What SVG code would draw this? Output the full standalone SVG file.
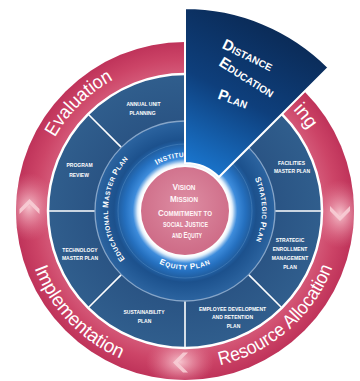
<svg xmlns="http://www.w3.org/2000/svg" width="360" height="381" viewBox="0 0 360 381">
<defs>
  <radialGradient id="pinkRing" gradientUnits="userSpaceOnUse" cx="185" cy="211" r="169">
    <stop offset="0.8" stop-color="#d55b7a"/>
    <stop offset="0.9" stop-color="#cc4467"/>
    <stop offset="1" stop-color="#bf335a"/>
  </radialGradient>
  <radialGradient id="hl">
    <stop offset="0" stop-color="#f8c9d2" stop-opacity="0.95"/>
    <stop offset="0.5" stop-color="#eea0b2" stop-opacity="0.5"/>
    <stop offset="1" stop-color="#e07a92" stop-opacity="0"/>
  </radialGradient>
  <clipPath id="ringClip"><circle cx="185" cy="211" r="169"/></clipPath>
  <radialGradient id="segGrad" gradientUnits="userSpaceOnUse" cx="185" cy="211" r="137">
    <stop offset="0.65" stop-color="#2a5484"/>
    <stop offset="1" stop-color="#305e8d"/>
  </radialGradient>
  <radialGradient id="midGrad" gradientUnits="userSpaceOnUse" cx="185" cy="211" r="90">
    <stop offset="0.49" stop-color="#ffffff"/>
    <stop offset="0.53" stop-color="#cfe3f6"/>
    <stop offset="0.58" stop-color="#3d8cdc"/>
    <stop offset="0.67" stop-color="#2570bf"/>
    <stop offset="0.74" stop-color="#215fa2"/>
    <stop offset="0.79" stop-color="#1c518d"/>
    <stop offset="0.9" stop-color="#245b97"/>
    <stop offset="1" stop-color="#2c64a0"/>
  </radialGradient>
  <radialGradient id="centerGrad" gradientUnits="userSpaceOnUse" cx="185" cy="205" r="46">
    <stop offset="0" stop-color="#de8ea4"/>
    <stop offset="1" stop-color="#cf6e89"/>
  </radialGradient>
  <linearGradient id="wedgeGrad" gradientUnits="userSpaceOnUse" x1="285" y1="20" x2="200" y2="180">
    <stop offset="0" stop-color="#0a2852"/>
    <stop offset="0.5" stop-color="#0e3f7c"/>
    <stop offset="1" stop-color="#1b7bd6"/>
  </linearGradient>
  <filter id="blur" x="-20%" y="-20%" width="140%" height="140%"><feGaussianBlur stdDeviation="1.6"/></filter>
  <path id="chev" d="M-10,3 L0,-7 L10,3 L10,8 L0,-2 L-10,8 Z"/>
  <path id="pEval" d="M54.88,137.39 A149.5,149.5 0 0 1 210.96,63.77"/>
  <path id="pImpl" d="M34.5,268.17 A161,161 0 0 0 212.95,369.55"/>
  <path id="pRes" d="M220,365.07 A158,158 0 0 0 342.4,224.77"/>
  <path id="pPlan" d="M292.89,109.69 A148,148 0 0 1 330.75,236.7"/>
  <path id="pEdu" d="M144.2,276.3 A77,77 0 0 1 148.85,143.02"/>
  <path id="pStrat" d="M222.33,143.66 A77,77 0 0 1 224.66,277"/>
  <path id="pInst" d="M156.8,164.9 A54,54 0 0 1 231.77,184"/>
  <path id="pEq" d="M134.34,240.25 A58.5,58.5 0 0 0 235.66,240.25"/>
  <path id="dl1" d="M221.3,47.7 L311.2,91.5"/>
  <path id="dl2" d="M218,65 L302.8,118"/>
  <path id="dl3" d="M217.1,98.4 L311.1,132.6"/>
</defs>
<style>
  .ring{font-family:"Liberation Sans",Arial,sans-serif;font-size:19px;fill:#ffffff}
  .mid{font-family:"Liberation Sans",Arial,sans-serif;font-size:6.5px;fill:#ffffff;font-weight:bold;letter-spacing:0.45px}
  .big{font-size:8px}
  .seg{font-family:"Liberation Sans",Arial,sans-serif;font-size:5px;fill:#ffffff;font-weight:bold;text-anchor:middle}
  .cen{font-family:"Liberation Sans",Arial,sans-serif;font-size:6.5px;fill:#fff6f8;font-weight:bold;text-anchor:middle}
  .cbig{font-size:8.5px}
  .dep{font-family:"Liberation Sans",Arial,sans-serif;font-size:10px;fill:#ffffff;font-weight:bold}
  .dbig{font-size:15px}
  .div{stroke:#ffffff;stroke-width:1.6}
  .chev{fill:#f7cdd5;fill-opacity:0.9}
</style>

<g id="outer-ring">
  <circle cx="185" cy="211" r="169" fill="url(#pinkRing)"/>
  <g clip-path="url(#ringClip)">
    <ellipse cx="29" cy="207" rx="26" ry="34" fill="url(#hl)"/>
    <ellipse cx="340" cy="214" rx="26" ry="34" fill="url(#hl)"/>
    <ellipse cx="180" cy="362" rx="34" ry="24" fill="url(#hl)"/>
  </g>
  <text class="ring" textLength="83" lengthAdjust="spacingAndGlyphs"><textPath href="#pEval">Evaluation</textPath></text>
  <text class="ring"><textPath href="#pPlan">ing</textPath></text>
  <text class="ring" textLength="128" lengthAdjust="spacingAndGlyphs"><textPath href="#pImpl">Implementation</textPath></text>
  <text class="ring" textLength="155" lengthAdjust="spacingAndGlyphs"><textPath href="#pRes">Resource Allocation</textPath></text>
</g>

<g id="connectors">
  <use href="#chev" class="chev" transform="translate(29.5,206)"/>
  <use href="#chev" class="chev" transform="translate(340,214) rotate(180)"/>
  <use href="#chev" class="chev" transform="translate(180,362.5) rotate(-90)"/>
</g>

<g id="segment-ring">
  <circle cx="185" cy="211" r="137" fill="url(#segGrad)" stroke="#ffffff" stroke-width="2.5"/>
  <line class="div" x1="275" y1="211" x2="321.5" y2="211"/>
  <line class="div" x1="248.64" y1="274.64" x2="281.52" y2="307.52"/>
  <line class="div" x1="185" y1="301" x2="185" y2="347.5"/>
  <line class="div" x1="121.36" y1="274.64" x2="88.48" y2="307.52"/>
  <line class="div" x1="95" y1="211" x2="48.5" y2="211"/>
  <line class="div" x1="121.36" y1="147.36" x2="88.48" y2="114.48"/>
</g>

<g id="mid-ring">
  <circle cx="185" cy="211" r="90" fill="url(#midGrad)" stroke="#86a5c8" stroke-width="1.3"/>
  <circle cx="185" cy="211" r="67" fill="none" stroke="#4f86c0" stroke-opacity="0.55" stroke-width="1"/>
  <text class="mid" text-anchor="middle"><textPath href="#pEdu" startOffset="50%"><tspan class="big">E</tspan>DUCATIONAL <tspan class="big">M</tspan>ASTER <tspan class="big">P</tspan>LAN</textPath></text>
  <text class="mid" text-anchor="middle"><textPath href="#pStrat" startOffset="50%"><tspan class="big">S</tspan>TRATEGIC <tspan class="big">P</tspan>LAN</textPath></text>
  <text class="mid"><textPath href="#pInst"><tspan class="big">I</tspan>NSTITU</textPath></text>
  <text class="mid" text-anchor="middle" style="letter-spacing:0.7px"><textPath href="#pEq" startOffset="50%"><tspan class="big">E</tspan>QUITY <tspan class="big">P</tspan>LAN</textPath></text>
</g>

<g id="distance-education-plan">
  <path d="M185,163 L185,8 A203,203 0 0 1 328.54,67.46 L218.94,177.06 A48,48 0 0 0 185,163 Z" fill="url(#wedgeGrad)" stroke="#ffffff" stroke-width="2" stroke-linejoin="miter"/>
  <text class="dep"><textPath href="#dl1"><tspan class="dbig">D</tspan>ISTANCE</textPath></text>
  <text class="dep"><textPath href="#dl2"><tspan class="dbig">E</tspan>DUCATION</textPath></text>
  <text class="dep"><textPath href="#dl3"><tspan class="dbig">P</tspan>LAN</textPath></text>
</g>

<g id="center">
  <circle cx="185" cy="211" r="46.5" fill="#ffffff" filter="url(#blur)"/>
  <circle cx="185" cy="211" r="44" fill="url(#centerGrad)"/>
  <text class="cen" x="184" y="190" textLength="23" lengthAdjust="spacingAndGlyphs"><tspan class="cbig">V</tspan>ISION</text>
  <text class="cen" x="184" y="202" textLength="28" lengthAdjust="spacingAndGlyphs"><tspan class="cbig">M</tspan>ISSION</text>
  <text class="cen" x="185" y="216" textLength="54" lengthAdjust="spacingAndGlyphs"><tspan class="cbig">C</tspan>OMMITMENT TO</text>
  <text class="cen" x="185.5" y="227" textLength="45" lengthAdjust="spacingAndGlyphs">SOCIAL <tspan class="cbig">J</tspan>USTICE</text>
  <text class="cen" x="187" y="237.5" textLength="30" lengthAdjust="spacingAndGlyphs">AND <tspan class="cbig">E</tspan>QUITY</text>
</g>

<g id="annual-unit-planning">
  <text class="seg" x="143.5" y="106">ANNUAL UNIT</text>
  <text class="seg" x="142.5" y="115">PLANNING</text>
</g>
<g id="program-review">
  <text class="seg" x="79.5" y="167">PROGRAM</text>
  <text class="seg" x="79" y="177">REVIEW</text>
</g>
<g id="technology-master-plan">
  <text class="seg" x="80" y="251.5">TECHNOLOGY</text>
  <text class="seg" x="80" y="260">MASTER PLAN</text>
</g>
<g id="sustainability-plan">
  <text class="seg" x="144" y="314">SUSTAINABILITY</text>
  <text class="seg" x="144.5" y="323">PLAN</text>
</g>
<g id="employee-development">
  <text class="seg" x="232.5" y="310.5">EMPLOYEE DEVELOPMENT</text>
  <text class="seg" x="232.5" y="319">AND RETENTION</text>
  <text class="seg" x="233.5" y="328">PLAN</text>
</g>
<g id="strategic-enrollment">
  <text class="seg" x="290" y="241.5">STRATEGIC</text>
  <text class="seg" x="290" y="250.5">ENROLLMENT</text>
  <text class="seg" x="290" y="259.5">MANAGEMENT</text>
  <text class="seg" x="290" y="268.5">PLAN</text>
</g>
<g id="facilities-master-plan">
  <text class="seg" x="291.5" y="164.5">FACILITIES</text>
  <text class="seg" x="292" y="172.5">MASTER PLAN</text>
</g>
</svg>
